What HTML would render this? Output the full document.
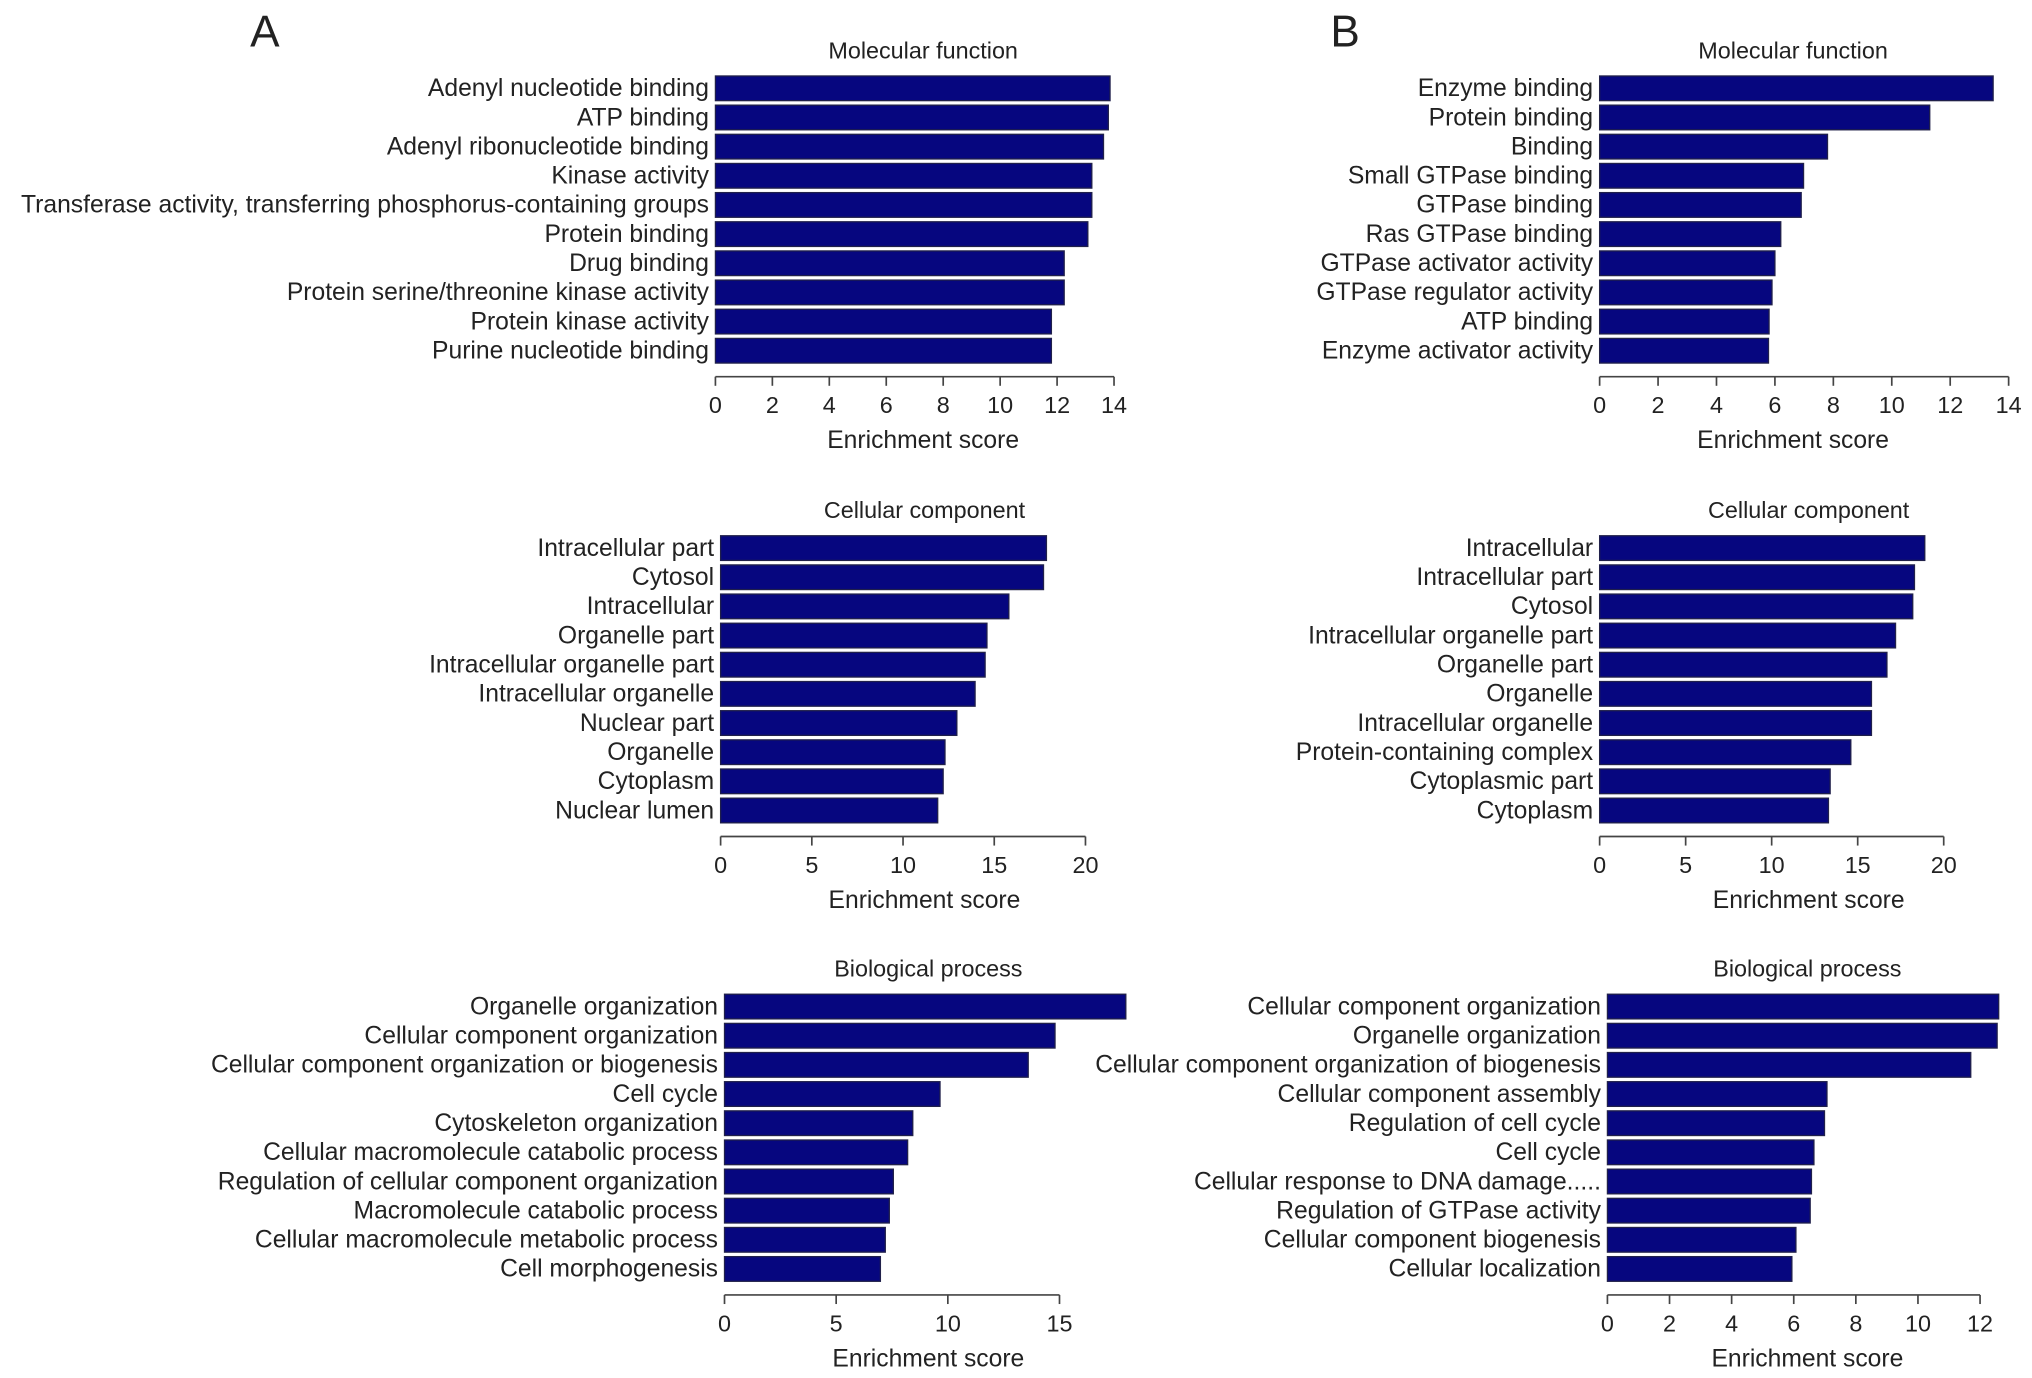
<!DOCTYPE html>
<html><head><meta charset="utf-8"><style>
html,body{margin:0;padding:0;background:#fff;}
svg{display:block;}
text{font-family:"Liberation Sans",sans-serif;fill:#222;}
</style></head><body>
<svg id="fig" width="2032" height="1378" viewBox="0 0 1565 1061" preserveAspectRatio="none" xmlns="http://www.w3.org/2000/svg">
<text x="204" y="36" font-size="34" text-anchor="middle">A</text>
<text x="1036" y="36" font-size="34" text-anchor="middle">B</text>
</svg>
<script>
const aMfCats=["Adenyl nucleotide binding","ATP binding","Adenyl ribonucleotide binding","Kinase activity","Transferase activity, transferring phosphorus-containing groups","Protein binding","Drug binding","Protein serine/threonine kinase activity","Protein kinase activity","Purine nucleotide binding"];
const aMfVals=[13.86,13.8,13.63,13.22,13.22,13.08,12.25,12.25,11.8,11.8];
const aMfTicks=[0,2,4,6,8,10,12,14];
const aCcCats=["Intracellular part","Cytosol","Intracellular","Organelle part","Intracellular organelle part","Intracellular organelle","Nuclear part","Organelle","Cytoplasm","Nuclear lumen"];
const aCcVals=[17.86,17.7,15.8,14.6,14.5,13.95,12.95,12.3,12.2,11.9];
const aCcTicks=[0,5,10,15,20];
const aBpCats=["Organelle organization","Cellular component organization","Cellular component organization or biogenesis","Cell cycle","Cytoskeleton organization","Cellular macromolecule catabolic process","Regulation of cellular component organization","Macromolecule catabolic process","Cellular macromolecule metabolic process","Cell morphogenesis"];
const aBpVals=[17.97,14.8,13.6,9.65,8.43,8.2,7.56,7.38,7.2,6.98];
const aBpTicks=[0,5,10,15];
const bMfCats=["Enzyme binding","Protein binding","Binding","Small GTPase binding","GTPase binding","Ras GTPase binding","GTPase activator activity","GTPase regulator activity","ATP binding","Enzyme activator activity"];
const bMfVals=[13.47,11.3,7.8,6.98,6.9,6.2,6.0,5.9,5.8,5.78];
const bMfTicks=[0,2,4,6,8,10,12,14];
const bCcCats=["Intracellular","Intracellular part","Cytosol","Intracellular organelle part","Organelle part","Organelle","Intracellular organelle","Protein-containing complex","Cytoplasmic part","Cytoplasm"];
const bCcVals=[18.9,18.3,18.2,17.2,16.7,15.8,15.8,14.6,13.4,13.3];
const bCcTicks=[0,5,10,15,20];
const bBpCats=["Cellular component organization","Organelle organization","Cellular component organization of biogenesis","Cellular component assembly","Regulation of cell cycle","Cell cycle","Cellular response to DNA damage.....","Regulation of GTPase activity","Cellular component biogenesis","Cellular localization"];
const bBpVals=[12.6,12.55,11.7,7.07,6.99,6.65,6.57,6.53,6.07,5.94];
const bBpTicks=[0,2,4,6,8,10,12];

const NS="http://www.w3.org/2000/svg";
const svg=document.getElementById('fig');
function mk(tag,attrs,parent){const e=document.createElementNS(NS,tag);for(const k in attrs)e.setAttribute(k,attrs[k]);(parent||svg).appendChild(e);return e;}

function panel(id,title,cats,vals,ticks,x0,x1,yTop,titleX){
  const g=mk('g',{});
  
  
  const maxT=ticks[ticks.length-1];
  const sx=v=>x0+(x1-x0)*v/maxT;
  const step=22.45;
  const t=mk('text',{x:titleX,y:yTop-15,'font-size':18,'text-anchor':'middle'},g);
  t.textContent=title;
  
  
  cats.forEach((c,i)=>{
    const cy=yTop+8+i*step;
    const r=mk('rect',{x:sx(0),y:cy-9.5,width:sx(vals[i])-sx(0),height:19,fill:'#06067f',stroke:'#20204a','stroke-width':1},g);
    
    
    const l=mk('text',{x:sx(0)-5,y:cy+6,'font-size':19,'text-anchor':'end'},g);
    l.textContent=c;
    
    
  });
  const ay=yTop+8+9*step+20;
  const ax=mk('line',{x1:sx(0),y1:ay,x2:sx(maxT),y2:ay,stroke:'#444','stroke-width':1.3},g);
  
  
  ticks.forEach(v=>{
    mk('line',{x1:sx(v),y1:ay,x2:sx(v),y2:ay+7,stroke:'#444','stroke-width':1.3},g);
    const tl=mk('text',{x:sx(v),y:ay+28,'font-size':18,'text-anchor':'middle'},g);
    tl.textContent=v;
    
    
  });
  const xl=mk('text',{x:titleX,y:ay+55,'font-size':19,'text-anchor':'middle'},g);
  xl.textContent='Enrichment score';
  
  
}
panel('a-molecular-function','Molecular function',aMfCats,aMfVals,aMfTicks,551,858,60,711);
panel('a-cellular-component','Cellular component',aCcCats,aCcVals,aCcTicks,555,836,414,712);
panel('a-biological-process','Biological process',aBpCats,aBpVals,aBpTicks,558,816,767,715);
panel('b-molecular-function','Molecular function',bMfCats,bMfVals,bMfTicks,1232,1547,60,1381);
panel('b-cellular-component','Cellular component',bCcCats,bCcVals,bCcTicks,1232,1497,414,1393);
panel('b-biological-process','Biological process',bBpCats,bBpVals,bBpTicks,1238,1525,767,1392);
</script>
</body></html>
